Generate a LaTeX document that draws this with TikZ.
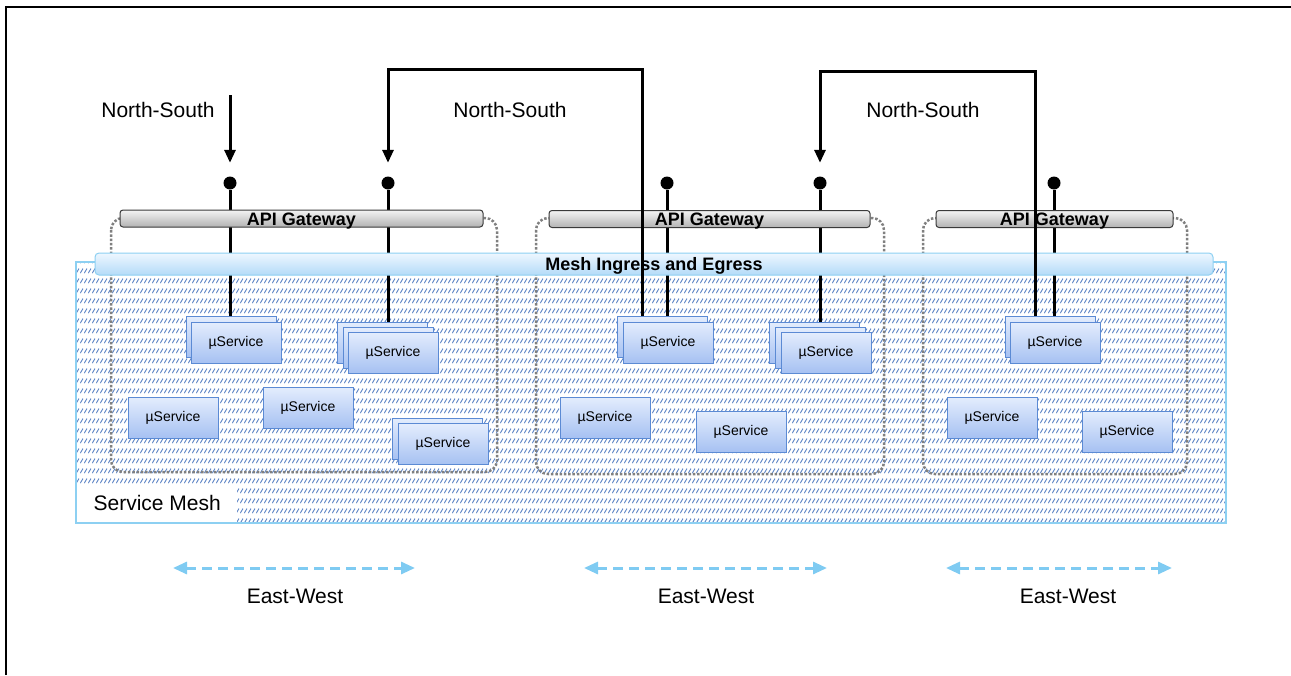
\documentclass[tikz,border=0pt]{standalone}
\usepackage{fontspec}
\setmainfont{Liberation Sans}
\usetikzlibrary{arrows.meta,patterns,positioning}

\definecolor{meshedge}{HTML}{8DD0F2}
\definecolor{hatchblue}{HTML}{5F86C6}
\definecolor{svcedge}{HTML}{5B8AD4}
\definecolor{svctop}{HTML}{E4EDFD}
\definecolor{svcbot}{HTML}{A6C1F2}
\definecolor{gwedge}{HTML}{3A3A3A}
\definecolor{gwtop}{HTML}{F4F4F4}
\definecolor{gwbot}{HTML}{B2B2B2}
\definecolor{bartop}{HTML}{EEF7FF}
\definecolor{barbot}{HTML}{B4DBF8}
\definecolor{ewblue}{HTML}{7FCBF2}

% short slashes in rows for the mesh background
\pgfdeclarepatternformonly{meshhatch}{\pgfqpoint{0pt}{0pt}}{\pgfqpoint{4pt}{10pt}}{\pgfqpoint{4pt}{10pt}}{%
  \pgfsetlinewidth{1.1pt}%
  \pgfpathmoveto{\pgfqpoint{0.3pt}{2pt}}%
  \pgfpathlineto{\pgfqpoint{3.7pt}{7pt}}%
  \pgfusepath{stroke}}

\tikzset{
  svc/.style={draw=svcedge, line width=1pt, top color=svctop, bottom color=svcbot,
    minimum width=90pt, minimum height=41pt, inner sep=0pt,
    font=\fontsize{14}{16}\selectfont},
  gateway/.style={draw=gwedge, line width=1pt, rounded corners=3pt,
    top color=gwtop, bottom color=gwbot, minimum height=17pt, inner sep=0pt,
    text height=13pt, text depth=0pt,
    font=\bfseries\fontsize{18}{18}\selectfont},
  ingress/.style={draw=meshedge, line width=1pt, rounded corners=4pt,
    top color=bartop, bottom color=barbot, minimum height=22pt, inner sep=0pt,
    text height=13pt, text depth=0pt,
    font=\bfseries\fontsize{18}{18}\selectfont},
  nsbox/.style={draw=gray, line width=2.5pt, dash pattern=on 2.5pt off 1.8pt,
    rounded corners=12pt},
  wire/.style={line width=3pt},
  joint/.style={circle, fill=black, inner sep=0pt, minimum size=13pt},
  flow/.style={wire, -{Triangle[length=13pt,width=11pt]}, shorten >=13.5pt},
  ewflow/.style={draw=ewblue, line width=3pt, dash pattern=on 10pt off 6pt,
    {Triangle[length=14pt,width=12pt]}-{Triangle[length=14pt,width=12pt]}},
  caption/.style={font=\fontsize{21}{24}\selectfont}
}

\begin{document}
\begin{tikzpicture}[x=1pt, y=-1pt]
  \useasboundingbox (0,0) rectangle (1291,675);
  \draw[line width=1.8pt] (6,675) -- (6,7) -- (1291,7);

  % mesh area
  \draw[draw=meshedge, line width=2.5pt, pattern=meshhatch, pattern color=hatchblue]
    (76,262) rectangle (1226,523);
  \node[caption, fill=white, anchor=south west, minimum width=160pt,
    minimum height=38pt, inner sep=0pt] (meshname) at (77,522) {Service Mesh};

  % namespaces
  \draw[nsbox] (111,218) rectangle (497,472);
  \draw[nsbox] (536,218) rectangle (884,474);
  \draw[nsbox] (923,218) rectangle (1187,474);

  % services, left group
  \node[svc] (a1b) at (231,336.5) {};
  \node[svc] (a1) at (236,342.5) {µService};
  \node[svc] (a2b) at (382,342.5) {};
  \node[svc] (a2m) at (388,348) {};
  \node[svc] (a2) at (393,352.5) {µService};
  \node[svc] (a3) at (173,417.5) {µService};
  \node[svc] (a4) at (308,407.5) {µService};
  \node[svc] (a5b) at (437,438.5) {};
  \node[svc] (a5) at (443,444) {µService};

  % services, middle group
  \node[svc] (b1b) at (662,336.5) {};
  \node[svc] (b1) at (668,342.5) {µService};
  \node[svc] (b2b) at (814,342.5) {};
  \node[svc] (b2m) at (820,347.5) {};
  \node[svc] (b2) at (826,352.5) {µService};
  \node[svc] (b3) at (605,417.5) {µService};
  \node[svc] (b4) at (741,431.5) {µService};

  % services, right group
  \node[svc] (c1b) at (1050,336.5) {};
  \node[svc] (c1) at (1055,342.5) {µService};
  \node[svc] (c2) at (992,417.5) {µService};
  \node[svc] (c3) at (1127,431.5) {µService};

  % gateway endpoints
  \node[joint] (p1) at (230,183) {};
  \node[joint] (p2) at (388,183) {};
  \node[joint] (p3) at (667,183) {};
  \node[joint] (p4) at (820,183) {};
  \node[joint] (p5) at (1054,183) {};
  \draw[wire] (p1) -- (p1 |- a1b.north);
  \draw[wire] (p2) -- (p2 |- a2b.north);
  \draw[wire] (p3) -- (p3 |- b1b.north);
  \draw[wire] (p4) -- (p4 |- b2b.north);
  \draw[wire] (p5) -- (p5 |- c1b.north);

  % gateways and mesh edge
  \node[gateway, minimum width=363pt] (gw1) at (301.5,218.5) {API Gateway};
  \node[gateway, minimum width=321pt] (gw2) at (709.5,219) {API Gateway};
  \node[gateway, minimum width=237pt] (gw3) at (1054.5,219) {API Gateway};
  \node[ingress, minimum width=1118pt] (edge) at (654,264) {Mesh Ingress and Egress};

  % north-south traffic
  \coordinate (in1) at (230,95);
  \coordinate (top1) at (388,69);
  \coordinate (top2) at (820,71);
  \draw[flow] (in1) -- (p1);
  \draw[flow] ([xshift=-20pt]b1b.north) |- (top1) -- (p2);
  \draw[flow] ([xshift=-15pt]c1b.north) |- (top2) -- (p4);
  \node[caption] (ns1) at (158,110) {North-South};
  \node[caption] (ns2) at (510,110) {North-South};
  \node[caption] (ns3) at (923,110) {North-South};

  % east-west traffic
  \coordinate (ew1a) at (173,568);
  \coordinate (ew1b) at (415,568);
  \coordinate (ew2a) at (584,568);
  \coordinate (ew2b) at (827,568);
  \coordinate (ew3a) at (946,568);
  \coordinate (ew3b) at (1172,568);
  \draw[ewflow] (ew1a) -- (ew1b);
  \draw[ewflow] (ew2a) -- (ew2b);
  \draw[ewflow] (ew3a) -- (ew3b);
  \node[caption] (ew1) at (295,596) {East-West};
  \node[caption] (ew2) at (706,596) {East-West};
  \node[caption] (ew3) at (1068,596) {East-West};
\end{tikzpicture}
\end{document}
